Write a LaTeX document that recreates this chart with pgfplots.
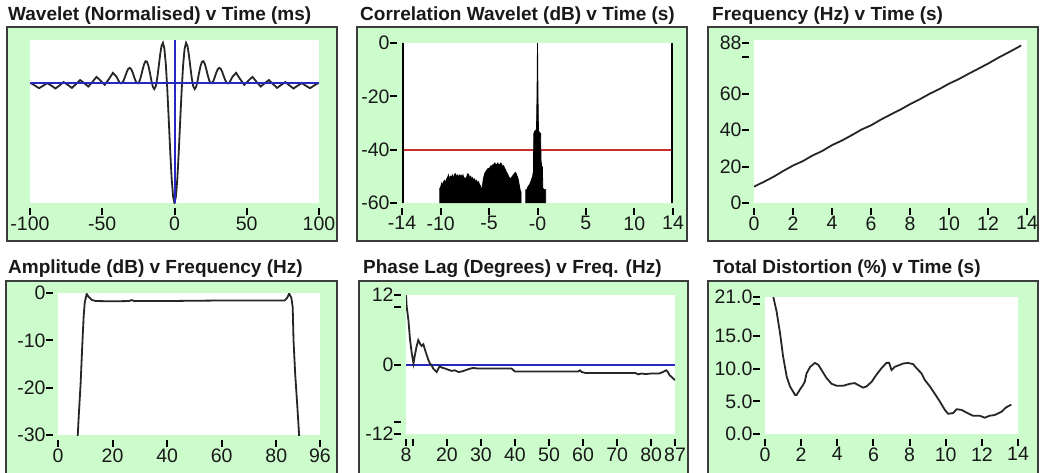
\documentclass[border=0pt]{standalone}
\usepackage{pgfplots}
\pgfplotsset{compat=1.18}
\usepackage{fontspec}
\setmainfont{Liberation Sans}

\definecolor{panelgreen}{RGB}{204,252,204}
\definecolor{framegray}{RGB}{60,60,60}
\definecolor{lineblue}{RGB}{40,40,190}
\definecolor{linered}{RGB}{205,45,45}

\pgfplotsset{
  panel/.style={
    scale only axis, anchor=south west,
    axis background/.style={fill=white},
    axis line style={draw=none},
    tick align=outside, xtick pos=bottom, ytick pos=left,
    major tick length=7pt,
    tick style={black, line width=2pt},
    major tick style={black, line width=2pt},
    x tick style={yshift=-5pt}, y tick style={xshift=-5pt},
    tick label style={font=\fontsize{19.5}{19.5}\selectfont, text=black!90},
    xticklabel style={yshift=-3pt},
    yticklabel style={xshift=-2pt},
  },
  data/.style={black!85, line width=1.8pt},
}

\newcommand{\ptitle}[3]{\node[anchor=base west, inner sep=0pt, text=black!90,
  font=\bfseries\fontsize{19}{19}\selectfont] at (#1pt,#2pt) {#3};}

\begin{document}
\begin{tikzpicture}
\clip (0pt,0pt) rectangle (1040pt,472pt);
\fill[white] (0pt,0pt) rectangle (1040pt,472pt);

% frames
\filldraw[fill=panelgreen, draw=framegray, line width=2pt] (7pt,231pt) rectangle (337pt,445pt);
\filldraw[fill=panelgreen, draw=framegray, line width=2pt] (357pt,231pt) rectangle (687pt,445pt);
\filldraw[fill=panelgreen, draw=framegray, line width=2pt] (708pt,231pt) rectangle (1038pt,445pt);
\filldraw[fill=panelgreen, draw=framegray, line width=2pt] (6pt,-10pt) rectangle (337pt,191pt);
\filldraw[fill=panelgreen, draw=framegray, line width=2pt] (359pt,-10pt) rectangle (688pt,191pt);
\filldraw[fill=panelgreen, draw=framegray, line width=2pt] (708pt,-10pt) rectangle (1038pt,191pt);

% titles
\ptitle{8}{451}{Wavelet (Normalised) v Time (ms)}
\ptitle{360}{451}{Correlation Wavelet (dB) v Time (s)}
\ptitle{712}{451}{Frequency (Hz) v Time (s)}
\ptitle{8}{199}{Amplitude (dB) v Frequency (Hz)}
\ptitle{363}{199}{Phase Lag (Degrees) v Freq. (Hz)}
\ptitle{713}{199}{Total Distortion (\%) v Time (s)}

% 1: wavelet
\begin{axis}[panel, at={(30pt,269pt)}, width=289pt, height=163pt,
  xmin=-100, xmax=100, ymin=-1, ymax=0.36,
  xtick={-100,-50,0,50,100}, xticklabels={-100,-50,0,50,100}, ytick=\empty]
\addplot[data] coordinates {
(-100,-0.003) (-99.43,0.0008) (-96.59,-0.0204) (-93.75,-0.0424) (-90.91,-0.0217)
(-88.07,0.0009) (-85.23,-0.0212) (-82.39,-0.0445) (-79.55,-0.0189) (-76.70,0.0090)
(-73.86,-0.0146) (-71.02,-0.0396) (-68.18,-0.0082) (-65.34,0.0261) (-62.50,0)
(-59.66,-0.0286) (-56.82,0.0099) (-53.98,0.0522) (-51.14,0.0210) (-48.30,-0.0142)
(-45.45,0.0331) (-42.61,0.0860) (-40,0.0512) (-39,0.0260) (-38,0.0059) (-37,-0.0022)
(-36,0.0056) (-35,0.0284) (-34,0.0609) (-33,0.0945) (-32,0.1191) (-31,0.1277)
(-30,0.1173) (-29,0.0902) (-28,0.0542) (-27,0.0202) (-26,-0.0005) (-25,0)
(-24,0.0238) (-23,0.0662) (-22,0.1162) (-21,0.1597) (-20,0.1833) (-19,0.1777)
(-18,0.1424) (-17,0.0853) (-16,0.0215) (-15,-0.0292) (-14,-0.0492) (-13,-0.0273)
(-12,0.0369) (-11,0.1312) (-10,0.2321) (-9,0.3099) (-8,0.3361) (-7,0.2873)
(-6,0.1566) (-5,-0.0477) (-4,-0.2994) (-3,-0.5610) (-2,-0.7892) (-1,-0.9453)
(0,-1)
(1,-0.9453) (2,-0.7892) (3,-0.5610) (4,-0.2994) (5,-0.0477) (6,0.1566)
(7,0.2873) (8,0.3361) (9,0.3099) (10,0.2321) (11,0.1312) (12,0.0369)
(13,-0.0273) (14,-0.0492) (15,-0.0292) (16,0.0215) (17,0.0853) (18,0.1424)
(19,0.1777) (20,0.1833) (21,0.1597) (22,0.1162) (23,0.0662) (24,0.0238)
(25,0) (26,-0.0005) (27,0.0202) (28,0.0542) (29,0.0902) (30,0.1173)
(31,0.1277) (32,0.1191) (33,0.0945) (34,0.0609) (35,0.0284) (36,0.0056)
(37,-0.0022) (38,0.0059) (39,0.0260) (40,0.0512) (42.61,0.0860) (45.45,0.0331)
(48.30,-0.0142) (51.14,0.0210) (53.98,0.0522) (56.82,0.0099) (59.66,-0.0286)
(62.50,0) (65.34,0.0261) (68.18,-0.0082) (71.02,-0.0396) (73.86,-0.0146)
(76.70,0.0090) (79.55,-0.0189) (82.39,-0.0445) (85.23,-0.0212) (88.07,0.0009)
(90.91,-0.0217) (93.75,-0.0424) (96.59,-0.0204) (99.43,0.0008) (100,-0.003)
};
\addplot[lineblue, line width=1.8pt] coordinates {(-100,0) (100,0)};
\addplot[lineblue, line width=2pt] coordinates {(0,-1) (0,0.36)};
\end{axis}

% 2: correlation wavelet
\begin{axis}[panel, at={(402pt,269pt)}, width=271pt, height=160pt,
  xmin=-14, xmax=14, ymin=-60, ymax=0,
  xtick={-14,-10,-5,0,5,10,14}, xticklabels={-14,-10,-5,-0,5,10,14},
  ytick={-60,-40,-20,0}, yticklabels={-60,-40,-20,0}]
\addplot[linered, line width=2pt] coordinates {(-14,-40) (14,-40)};
\addplot[black, line width=2.2pt] coordinates {(-13.9,-60) (-13.9,0)};
\addplot[black, line width=2.2pt] coordinates {(13.9,-60) (13.9,0)};
\addplot[fill=black, draw=black, line width=0.8pt] coordinates {
(-10.1,-60) (-10.1,-54.5) (-10.0,-54) (-9.9,-52.5) (-9.8,-53.5) (-9.7,-52) (-9.6,-51.5)
(-9.5,-52.5) (-9.4,-51) (-9.3,-50.5) (-9.2,-49.5) (-9.1,-51) (-9.0,-50) (-8.9,-50.5)
(-8.8,-49.5) (-8.7,-51) (-8.6,-49.5) (-8.5,-49) (-8.4,-50) (-8.3,-49.5) (-8.2,-50.5)
(-8.1,-49.5) (-8.0,-50) (-7.9,-49.5) (-7.8,-50.5) (-7.7,-49.5) (-7.6,-51) (-7.5,-50.5)
(-7.4,-51.5) (-7.3,-50) (-7.2,-49) (-7.1,-49.5) (-7.0,-50.5) (-6.9,-50) (-6.8,-51)
(-6.7,-50.5) (-6.6,-51.5) (-6.5,-51) (-6.4,-52) (-6.3,-51.5) (-6.2,-52.5) (-6.1,-52)
(-6.0,-53) (-5.9,-53.5) (-5.8,-55) (-5.7,-54) (-5.6,-51) (-5.5,-49.5) (-5.4,-48.5)
(-5.3,-48) (-5.2,-47.5) (-5.1,-47) (-5.0,-47.5) (-4.9,-46.5) (-4.8,-46) (-4.7,-46.5)
(-4.6,-45.5) (-4.5,-45.5) (-4.4,-45) (-4.3,-46) (-4.2,-45.5) (-4.1,-45) (-4.0,-46)
(-3.9,-45.5) (-3.8,-45) (-3.7,-45.5) (-3.6,-46.5) (-3.5,-46) (-3.4,-47) (-3.3,-47.5)
(-3.2,-48.5) (-3.1,-49) (-3.0,-50) (-2.9,-50.5) (-2.8,-51) (-2.7,-50.5) (-2.6,-50)
(-2.5,-49.5) (-2.4,-49) (-2.3,-48.5) (-2.2,-49) (-2.1,-50) (-2.0,-51) (-1.9,-53)
(-1.8,-55) (-1.7,-56) (-1.7,-60)
};
\addplot[fill=black, draw=black, line width=0.8pt] coordinates {
(-1.2,-60) (-1.2,-55) (-1.1,-55) (-1.0,-54) (-0.9,-53.5) (-0.8,-53) (-0.7,-52)
(-0.6,-51) (-0.5,-50) (-0.42,-48) (-0.38,-34) (-0.3,-33) (-0.2,-33) (-0.1,-32)
(-0.05,-20) (0,0) (0.05,-20) (0.1,-33) (0.2,-33.5) (0.32,-34) (0.36,-44) (0.42,-46)
(0.5,-46.5) (0.55,-54.5) (0.7,-55) (0.85,-55) (0.85,-60)
};
\end{axis}

% 3: frequency
\begin{axis}[panel, at={(754pt,269pt)}, width=273pt, height=163pt,
  xmin=0, xmax=14, ymin=0, ymax=89.6,
  xtick={0,2,4,6,8,10,12,14}, xticklabels={0,2,4,6,8,10,12,14},
  ytick={0,20,40,60,80,88}, yticklabels={0,20,40,60,,88}]
\addplot[data] coordinates {
(0,9.0) (0.5,11.6) (1,14.4) (1.5,17.6) (2,20.6) (2.5,23.0) (3,26.1) (3.5,28.6)
(4,31.8) (4.5,34.3) (5,37.2) (5.5,40.3) (6,42.7) (6.5,45.8) (7,48.6) (7.5,51.3)
(8,54.3) (8.5,57.0) (9,60.0) (9.5,62.6) (10,65.6) (10.5,68.1) (11,71.0) (11.5,73.8)
(12,76.6) (12.5,79.7) (13,82.5) (13.5,85.4) (13.7,86.6)
};
\end{axis}

% 4: amplitude
\begin{axis}[panel, at={(58pt,37pt)}, width=262pt, height=142pt,
  xmin=0, xmax=96, ymin=-30, ymax=0,
  xtick={0,20,40,60,80,96}, xticklabels={0,20,40,60,80,96},
  ytick={-30,-20,-10,0}, yticklabels={-30,-20,-10,0}]
\addplot[data] coordinates {
(7.2,-30.5) (7.6,-26) (8.3,-19) (8.9,-11) (9.4,-5) (9.8,-2) (10.5,-0.2) (11.2,-0.8)
(12.5,-1.5) (14,-1.7) (20,-1.75) (26,-1.7) (27,-1.5) (28,-1.7) (40,-1.7) (47,-1.65)
(57,-1.6) (70,-1.6) (83,-1.6) (84,-1.0) (84.7,-0.1) (85.5,-1.0) (86,-3) (86.3,-10)
(86.9,-17) (87.7,-24) (88.4,-30.5)
};
\end{axis}

% 5: phase lag
\begin{axis}[panel, at={(406pt,38pt)}, width=269pt, height=139pt,
  xmin=8, xmax=87, ymin=-12, ymax=12,
  xtick={8,10,20,30,40,50,60,70,80,87}, xticklabels={8,,20,30,40,50,60,70,80,87},
  ytick={-12,-10,0,10,12}, yticklabels={-12,,0,,12}]
\addplot[lineblue, line width=2pt] coordinates {(8,0) (87,0)};
\addplot[data] coordinates {
(8,12) (8.2,10) (8.7,7.7) (9.2,4.2) (9.7,1.9) (10.2,0.2) (10.6,1.6) (11.1,3.1)
(11.6,4.2) (12.1,3.6) (12.6,3.2) (13.1,3.5) (13.6,2.5) (14.1,1.6) (14.6,0.75)
(15.0,0.2) (15.5,-0.1) (16.0,-0.7) (16.5,-1.0) (17.0,-1.3) (17.5,-0.7) (17.9,-0.3)
(18.4,-0.5) (19.5,-0.7) (20.4,-0.9) (21.4,-1.1) (22.4,-1.0) (23.4,-1.3) (24.4,-1.2)
(25.4,-1.0) (26.9,-0.7) (27.8,-0.6) (29.3,-0.7) (34.1,-0.7) (39.0,-0.7) (40.0,-1.2)
(48.8,-1.2) (58.6,-1.2) (59.1,-1.0) (59.6,-1.3) (60.6,-1.45) (68.4,-1.45) (75.3,-1.45)
(76.2,-1.7) (77.2,-1.55) (78.2,-1.65) (80.2,-1.55) (82.4,-1.55) (83.4,-1.3) (84.4,-1.0)
(84.9,-1.3) (85.4,-1.85) (85.9,-2.1) (87,-2.7)
};
\end{axis}

% 6: total distortion
\begin{axis}[panel, at={(765pt,38pt)}, width=253pt, height=137pt,
  xmin=0, xmax=14, ymin=0, ymax=21,
  xtick={0,2,4,6,8,10,12,14}, xticklabels={0,2,4,6,8,10,12,14},
  ytick={0,5,10,15,20,21}, yticklabels={0.0,5.0,10.0,15.0,,21.0}]
\addplot[data] coordinates {
(0.46,21.0) (0.64,18.8) (0.83,15.5) (1.0,11.9) (1.2,8.8) (1.38,7.3) (1.66,6.0)
(1.75,6.0) (1.93,6.8) (2.1,7.5) (2.2,8.0) (2.3,9.3) (2.5,10.3) (2.76,10.9) (2.95,10.6)
(3.13,9.8) (3.4,8.6) (3.68,7.7) (3.96,7.4) (4.33,7.4) (4.7,7.7) (4.97,7.8) (5.16,7.5)
(5.43,7.1) (5.62,7.3) (5.9,8.0) (6.17,9.1) (6.45,10.1) (6.72,10.9) (6.87,10.9)
(7.0,9.8) (7.18,10.3) (7.37,10.5) (7.64,10.8) (7.92,10.9) (8.2,10.7) (8.38,10.1)
(8.66,9.3) (8.84,8.3) (9.12,7.3) (9.39,6.2) (9.67,5.0) (9.95,3.7) (10.13,3.1)
(10.41,3.2) (10.6,3.8) (10.87,3.7) (11.14,3.3) (11.5,2.8) (11.88,2.8) (12.16,2.5)
(12.43,2.8) (12.7,2.9) (13.08,3.4) (13.35,4.1) (13.63,4.5)
};
\end{axis}
\end{tikzpicture}
\end{document}
